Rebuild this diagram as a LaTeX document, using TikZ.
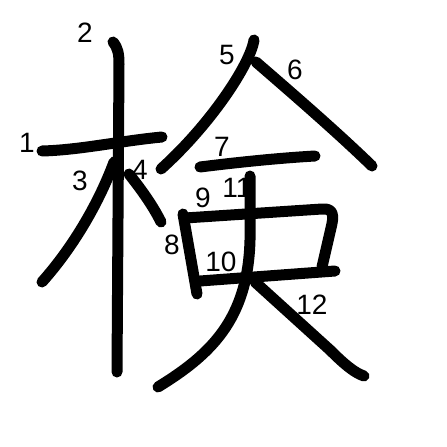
\documentclass[tikz,border=0pt]{standalone}
\usepackage{fontspec}
\setmainfont{Liberation Sans}
\begin{document}
\begin{tikzpicture}[x=1pt, y=-1pt, line join=round, line cap=round,
			stroke/.style={line width=11pt},
			num/.style={inner sep=0pt, font=\fontsize{28}{28}\selectfont}]
			\useasboundingbox (0,0) rectangle (447,447);
			\draw[stroke] (42,151) .. controls (80,150) and (120,141) .. (162,137);
			\draw[stroke] (113,42) .. controls (118,48) and (119,54) .. (119,64) -- (117,372);
			\draw[stroke] (114,162) .. controls (100,200) and (75,245) .. (42,282);
			\draw[stroke] (129,174) .. controls (140,188) and (152,204) .. (161,222);
			\draw[stroke] (254,40) .. controls (250,65) and (210,125) .. (161,169);
			\draw[stroke] (256,62) .. controls (300,100) and (340,135) .. (372,166);
			\draw[stroke] (200,167) .. controls (240,162) and (280,158) .. (315,156);
			\draw[stroke] (183,214) -- (197,294);
			\draw[stroke] (185,218) -- (322,209) .. controls (334,208) and (334,216) .. (331,228) -- (322,267);
			\draw[stroke] (200,281) -- (335,271);
			\draw[stroke] (250,176) -- (250,240) .. controls (248,320) and (210,355) .. (158,387);
			\draw[stroke] (255,282) -- (330,350) .. controls (345,365) and (355,373) .. (364,376);
			\foreach \n/\x/\y in {1/27/143,2/85/33,3/80/181,4/140/170,5/227/55,6/295/70,
				7/222/147,8/172/245,9/203/198,10/221/262,11/237/188,12/312/305}
			{\node[num] (n\n) at (\x,\y) {\n};}
		\end{tikzpicture}
\end{document}
